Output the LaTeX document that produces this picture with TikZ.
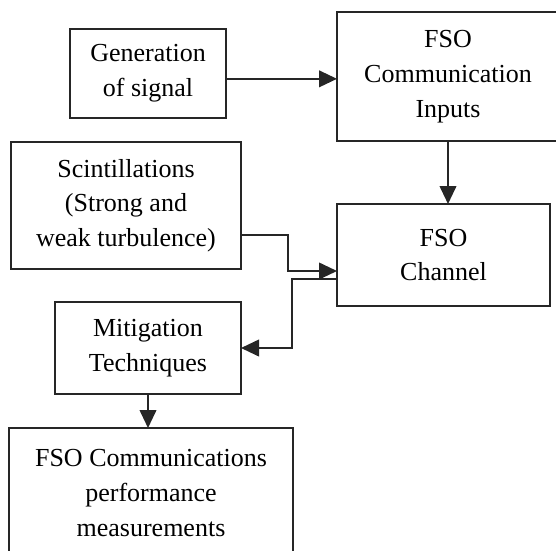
\documentclass[tikz,border=0pt]{standalone}
\usepackage{fontspec}
\setmainfont{Liberation Serif}
\usetikzlibrary{
    arrows.meta,
    positioning
}

\begin{document}
\begin{tikzpicture}[
        x=0.75pt,
        y=-0.75pt,
        font=\fontsize{19.5}{26}\selectfont,
        block/.style={
            rectangle,
            draw=black!85,
            line width=1.4pt,
            align=center,
            inner sep=0pt,
            outer sep=0pt
        },
        line/.style={
            -{Triangle[length=13.5pt,width=12.5pt]},
            line width=1.4pt,
            draw=black!85
        }
    ]

    \useasboundingbox (0,0) rectangle (556,550);

    \node[block, minimum width=117pt, minimum height=66.75pt] (signal)
        at (148,73.5) {Generation\\of signal};

    \node[block, minimum width=166.5pt, minimum height=96.75pt] (inputs)
        at (448,76.5) {FSO\\Communication\\Inputs};

    \node[block, minimum width=172.5pt, minimum height=95.25pt] (scint)
        at (126,205.5) {Scintillations\\(Strong and\\weak turbulence)};

    \node[block, minimum width=159.75pt, minimum height=76.5pt] (channel)
        at (443.5,255) {FSO\\Channel};

    \node[block, minimum width=139.5pt, minimum height=69pt] (mitigation)
        at (148,348) {Mitigation\\Techniques};

    \node[block, minimum width=213pt, minimum height=97.5pt] (performance)
        at (151,493) {FSO Communications\\performance\\measurements};

    \draw[line] ([yshift=-4pt]signal.east) -- ([yshift=-4pt]signal.east -| inputs.west);
    \draw[line] (inputs.south) -- (inputs.south |- channel.north);
    \draw[line] (scint.east |- 0,235) -- (288,235) |- (channel.west |- 0,271);
    \draw[line] (channel.west |- 0,279) -- (292,279) |- (mitigation.east);
    \draw[line] (mitigation.south) -- (mitigation.south |- performance.north);

\end{tikzpicture}
\end{document}
